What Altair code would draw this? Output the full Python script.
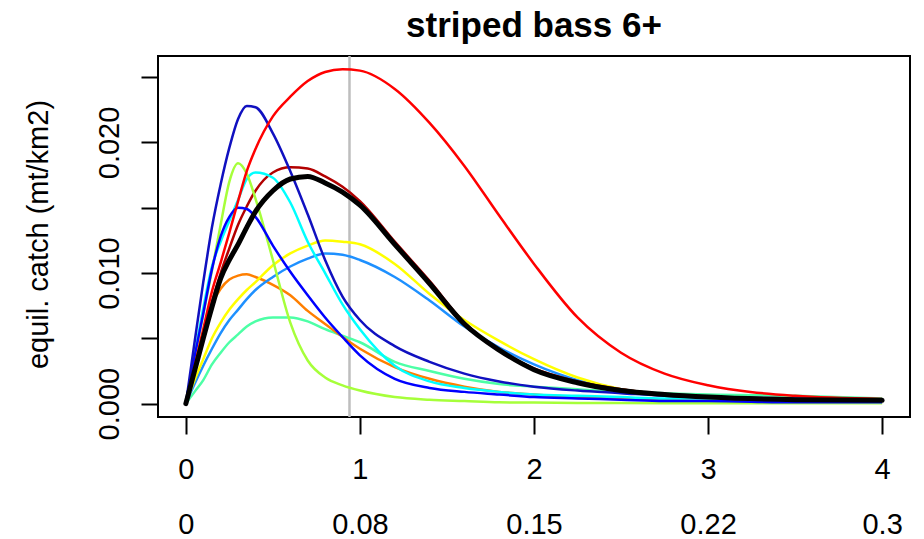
import altair as alt
import pandas as pd

# ---- data ----
F_MULT = [0, 0.05, 0.1, 0.15, 0.2, 0.25, 0.3, 0.35, 0.4, 0.5, 0.6, 0.7, 0.8, 0.9,
          1.0, 1.2, 1.4, 1.6, 1.8, 2.0, 2.25, 2.5, 2.75, 3.0, 3.5, 4.0]
X_TICKS = [0, 1, 2, 3, 4]
F_LABELS = ["0", "0.08", "0.15", "0.22", "0.3"]
Y_TICKS = [0, 0.005, 0.01, 0.015, 0.02, 0.025]
REF_F = [0.94]

red = [0, 0.0028, 0.0057, 0.0086, 0.0108, 0.0131, 0.0155, 0.0178, 0.0195, 0.0220, 0.0235,
       0.0247, 0.0254, 0.0256, 0.0255, 0.0241, 0.0215, 0.0182, 0.0144, 0.0107, 0.0066,
       0.0039, 0.0023, 0.0014, 0.0006, 0.00036]
darkblue = [0, 0.0047, 0.0093, 0.0135, 0.0168, 0.0196, 0.0218, 0.0228, 0.0227, 0.0207, 0.0178,
            0.0145, 0.0110, 0.0082, 0.0064, 0.0044, 0.0032, 0.0023, 0.0017, 0.0013, 0.0010,
            0.0008, 0.0006, 0.0005, 0.0004, 0.0003]
blue = [0, 0.0036, 0.0069, 0.0103, 0.0128, 0.0143, 0.0150, 0.0149, 0.0143, 0.0121, 0.0101,
        0.0083, 0.0066, 0.0051, 0.0037, 0.0019, 0.0012, 0.0009, 0.0007, 0.0005, 0.0004,
        0.0003, 0.0002, 0.0002, 0.0001, 0.0001]
greenyellow = [0, 0.0035, 0.0068, 0.0102, 0.0137, 0.0170, 0.0184, 0.0176, 0.0157, 0.0110, 0.0062,
               0.0033, 0.0020, 0.0014, 0.0010, 0.0005, 0.0003, 0.0002, 0.0001, 0.00008,
               0.00005, 0.00004, 0.00003, 0.00003, 0.00002, 0.00002]
cyan = [0, 0.0037, 0.0073, 0.0105, 0.0124, 0.0140, 0.0156, 0.0172, 0.0177, 0.0173, 0.0154,
        0.0124, 0.0100, 0.0076, 0.0057, 0.0029, 0.0017, 0.0012, 0.0009, 0.0007, 0.0006,
        0.0005, 0.0004, 0.0004, 0.0003, 0.0002]
darkred = [0, 0.0027, 0.0052, 0.0078, 0.0100, 0.0119, 0.0137, 0.0151, 0.0163, 0.0177, 0.0181,
           0.0180, 0.0174, 0.0166, 0.0155, 0.0124, 0.0094, 0.0062, 0.0041, 0.0027, 0.0017,
           0.0011, 0.0007, 0.0005, 0.0003, 0.00025]
yellow = [0, 0.0018, 0.0034, 0.0050, 0.0062, 0.0072, 0.0080, 0.0087, 0.0093, 0.0106, 0.0115,
          0.0121, 0.0125, 0.0124, 0.0122, 0.0107, 0.0084, 0.0064, 0.0048, 0.0034, 0.0020,
          0.0011, 0.0007, 0.0004, 0.0002, 0.0001]
dodgerblue = [0, 0.0015, 0.0029, 0.0042, 0.0054, 0.0064, 0.0072, 0.0080, 0.0087, 0.0097, 0.0105,
              0.0111, 0.0115, 0.0114, 0.0110, 0.0097, 0.0079, 0.0059, 0.0043, 0.0030, 0.0018,
              0.0011, 0.0007, 0.0005, 0.0003, 0.0002]
orange = [0, 0.0029, 0.0055, 0.0076, 0.0088, 0.0095, 0.0098, 0.0099, 0.0097, 0.0091, 0.0083,
          0.0071, 0.0061, 0.0051, 0.0042, 0.0028, 0.0019, 0.0013, 0.0009, 0.0007, 0.0005,
          0.0004, 0.0003, 0.0002, 0.0001, 0.0001]
aquamarine = [0, 0.0009, 0.0018, 0.0030, 0.0039, 0.0047, 0.0053, 0.0059, 0.0063, 0.0066, 0.0066,
              0.0063, 0.0057, 0.0052, 0.0047, 0.0032, 0.0025, 0.0019, 0.0015, 0.0013, 0.0011,
              0.0009, 0.0008, 0.0007, 0.0006, 0.0004]
black = [0, 0.0025, 0.0050, 0.0074, 0.0096, 0.0110, 0.0122, 0.0135, 0.0147, 0.0163, 0.0172,
         0.0174, 0.0169, 0.0162, 0.0152, 0.0122, 0.0092, 0.0061, 0.0041, 0.0026, 0.0016,
         0.0010, 0.0007, 0.0005, 0.0003, 0.00025]

SERIES_NAMES = ["aquamarine", "orange", "dodgerblue", "yellow", "darkred", "cyan",
                "greenyellow", "blue", "darkblue", "red"]
SERIES_VALUES = [aquamarine, orange, dodgerblue, yellow, darkred, cyan,
                 greenyellow, blue, darkblue, red]
SERIES_COLORS = ["#4DFFA6", "#FF7F00", "#1E90FF", "#FFFF00", "#B20000", "#00FFFF",
                 "#A6FF3A", "#0000FF", "#1010C0", "#FF0000"]

rows = []
for name, ys in zip(SERIES_NAMES, SERIES_VALUES):
    for f, y in zip(F_MULT, ys):
        rows.append({"series": name, "f": f, "catch": y})
df = pd.DataFrame(rows)
df_black = pd.DataFrame({"f": F_MULT, "catch": black})
df_ref = pd.DataFrame({"f": REF_F})

FONT = "Liberation Sans"

x_scale = alt.Scale(domain=[-0.16, 4.16], nice=False, zero=False)
y_scale = alt.Scale(domain=[-0.001024, 0.02662], nice=False, zero=False)

lab_arr = "[" + ",".join("'" + s + "'" for s in F_LABELS) + "]"
x_axis = alt.Axis(
    values=X_TICKS, format="d", title=None, domain=False, grid=False,
    tickSize=17, tickWidth=2, tickColor="black",
    labelExpr="[datum.label, " + lab_arr + "[datum.value]]",
    labelFont=FONT, labelFontSize=29, labelColor="black",
    labelBaseline="alphabetic", labelAlign="center", labelPadding=44,
    labelLineHeight=55, labelOverlap=False, labelFlush=False, labelBound=False,
)
y_axis = alt.Axis(
    values=Y_TICKS, title="equil. catch (mt/km2)", domain=False, grid=False,
    tickSize=17, tickWidth=2, tickColor="black",
    labelExpr="round(datum.value*1000) % 10 == 0 ? format(datum.value, '.3f') : ''",
    labelFont=FONT, labelFontSize=29, labelColor="black",
    labelAngle=270, labelAlign="center", labelBaseline="alphabetic", labelPadding=23,
    labelOverlap=False, labelFlush=False, labelBound=False,
    titleFont=FONT, titleFontSize=29, titleFontWeight="normal", titleColor="black",
    titleAngle=270, titleBaseline="alphabetic", titleAlign="center",
    titleX=-111, titleY=178,
)

ref = alt.Chart(df_ref).mark_rule(color="#BEBEBE", strokeWidth=2.5).encode(
    x=alt.X("f:Q", scale=x_scale, axis=x_axis),
)

lines = alt.Chart(df).mark_line(strokeWidth=2.5, interpolate="monotone").encode(
    x=alt.X("f:Q", scale=x_scale, axis=x_axis),
    y=alt.Y("catch:Q", scale=y_scale, axis=y_axis),
    color=alt.Color("series:N", scale=alt.Scale(domain=SERIES_NAMES, range=SERIES_COLORS),
                    legend=None),
    order=alt.Order("f:Q"),
)

black_line = alt.Chart(df_black).mark_line(
    strokeWidth=5, color="black", interpolate="monotone", strokeJoin="round", strokeCap="round"
).encode(
    x=alt.X("f:Q", scale=x_scale, axis=x_axis),
    y=alt.Y("catch:Q", scale=y_scale, axis=y_axis),
)

chart = alt.layer(ref, lines, black_line).properties(
    width=752, height=361,
    title=alt.TitleParams("striped bass 6+", font=FONT, fontSize=35, fontWeight="bold",
                          color="black", anchor="middle", baseline="top", offset=11),
    autosize=alt.AutoSizeParams(type="none"),
    padding={"left": 150, "top": 48, "right": 6, "bottom": 120},
    background="white",
).configure_view(stroke="black", strokeWidth=2)

chart.save("out.html", embed_options={"renderer": "svg", "actions": False})
